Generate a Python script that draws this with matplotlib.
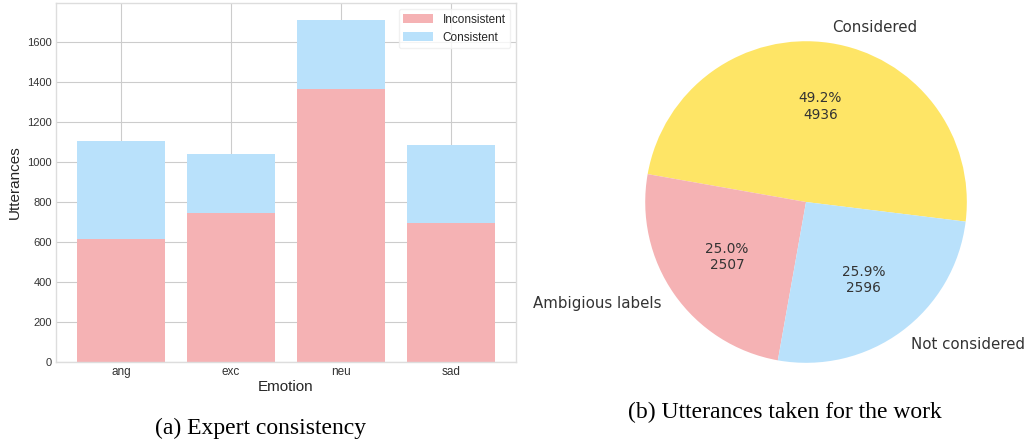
import matplotlib.pyplot as plt
import numpy as np

# データ
emotions = ['ang', 'exc', 'neu', 'sad']
inconsistent = [614, 742, 1366, 692]
consistent = [489, 299, 342, 392]

pie_labels = ['Considered', 'Ambigious labels', 'Not considered']
pie_counts = [4936, 2507, 2596]

PINK = '#f5b2b4'
BLUE = '#b9e1fb'
YELLOW = '#fee566'

plt.style.use('seaborn-v0_8-whitegrid')
plt.rcParams['font.family'] = ['Liberation Sans', 'DejaVu Sans']

fig = plt.figure(figsize=(10.30, 4.44), dpi=100)

# (a) 積み上げ棒グラフ
ax1 = fig.add_axes([0.0544, 0.1847, 0.4466, 0.8086])
x = np.arange(len(emotions))
ax1.bar(x, inconsistent, color=PINK, linewidth=0, label='Inconsistent')
ax1.bar(x, consistent, bottom=inconsistent, color=BLUE, linewidth=0, label='Consistent')
ax1.set_xticks(x)
ax1.set_xticklabels(emotions)
ax1.tick_params(axis='x', labelsize=8.5, colors='#333333', pad=3)
ax1.tick_params(axis='y', labelsize=8, colors='#333333', pad=3)
ax1.set_xlabel('Emotion', fontsize=11, color='#262626', labelpad=1)
ax1.set_ylabel('Utterances', fontsize=11, color='#262626', labelpad=4)
for s in ax1.spines.values():
    s.set_color('#dddddd')
leg = ax1.legend(loc='upper right', fontsize=8.5, frameon=True, handlelength=2.5)
leg.get_frame().set_edgecolor('#eeeeee')

# (b) 円グラフ
ax2 = fig.add_axes([0.5874, 0.0923, 0.3903, 0.9054])
def fmt(p):
    return '{:.1f}%\n{:d}'.format(p, int(round(p * sum(pie_counts) / 100)))
wedges, texts, autotexts = ax2.pie(pie_counts, labels=pie_labels, colors=[YELLOW, PINK, BLUE],
                                   startangle=-7, autopct=fmt,
                                   textprops={'fontsize': 10.8, 'color': '#333333',
                                              'family': 'DejaVu Sans'})
for t in autotexts:
    t.set_fontsize(9.8)
ax2.set_xlim(-1.25, 1.25)
ax2.set_ylim(-1.25, 1.25)
ax2.set_aspect('equal')

# キャプション
fig.text(0.2534, 0.036, '(a) Expert consistency', ha='center', va='center',
         fontsize=17, family='Liberation Serif', color='black')
fig.text(0.7621, 0.070, '(b) Utterances taken for the work', ha='center', va='center',
         fontsize=17, family='Liberation Serif', color='black')

fig.savefig('out.png', dpi=100)
